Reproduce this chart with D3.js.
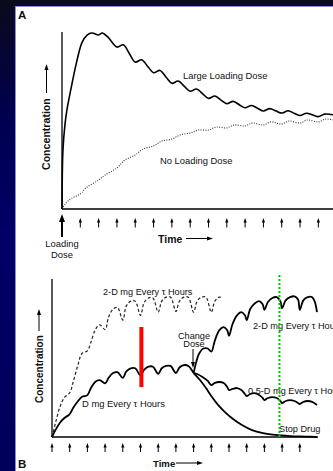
<!DOCTYPE html>
<html><head><meta charset="utf-8">
<script src="https://cdn.jsdelivr.net/npm/d3@7"></script>
<style>html,body{margin:0;padding:0;background:#000060;overflow:hidden}svg{display:block}</style>
</head><body><svg id="c" width="333" height="471"></svg>
<script>
// ---------- Panel A data (time in dosing intervals, concentration in % of axis) ----------
const doseTimesA = [1,2,3,4,5,6,7,8,9,10,11,12,13,14];
const loadingDoseTime = 0;
const largeLoading = [
 [0,0],[0.05,33],[0.16,47.5],[0.27,56],[0.55,71],[0.82,84],[1.09,94],[1.37,98.3],[1.64,99.4],
 [2.0,98.3],[2.19,99.4],[2.5,97.2],
 [3,91.5],[3.35,92.8],[3.7,87.4],
 [4,83],[4.35,84.3],[4.7,80.3],
 [5,77],[5.35,78.3],[5.7,74.3],
 [6,71],[6.35,72.3],[6.7,69.1],
 [7,66.5],[7.35,67.8],[7.7,64.9],
 [8,62.5],[8.35,63.8],[8.7,61.4],
 [9,59.5],[9.35,60.8],[9.7,58.8],
 [10,57.2],[10.35,58.5],[10.7,56.8],
 [11,55.4],[11.35,56.7],[11.7,55.3],
 [12,54.2],[12.35,55.5],[12.7,54.0],
 [13,52.8],[13.35,54.1],[13.7,53.1],
 [14,52.2],[14.35,53.6],[14.8,53.2]
];
const noLoading = [
 [0,0],[0.22,3.4],[0.55,6.2],[1.0,8.5],[1.31,11.9],[2.0,16.4],[2.35,19.2],[3.0,23.2],[3.44,27.7],
 [4.0,30.5],[4.43,33.9],[5.0,35.6],[5.46,38.4],[6.0,39.5],[6.45,41.8],[7.0,42.9],[7.43,44.6],
 [8.0,44.6],[8.42,46.3],[9.0,45.8],[9.4,47.5],[10.0,46.9],[10.4,48.6],[11.0,47.5],[11.4,49.2],
 [12.0,48.0],[12.4,49.7],[13.0,48.6],[13.4,50.3],[14.0,49.2],[14.4,50.8],[14.8,50.3]
];
const labelsA = ["Large Loading Dose","No Loading Dose","Loading","Dose","Concentration","Time","A"];

// ---------- Panel B data ----------
const doseTimesB = [0,1,2,3,4,5,6,7,8,9,10,11,12,13,14];
const dEvery = [
 [0,0],[0.2,4.5],[0.45,9],[0.7,12],[1,14.5],
 [1.2,18.5],[1.45,22.5],[1.7,25.5],[2,26.5],
 [2.2,31],[2.45,35],[2.7,36],[3,34],
 [3.2,37.5],[3.45,40.5],[3.7,41],[4,37.5],
 [4.2,41.5],[4.45,43.5],[4.7,43.5],[5,39],
 [5.2,42.5],[5.45,44.5],[5.7,44.5],[6,40],
 [6.2,43.5],[6.45,45],[6.7,45],[7,40.5],
 [7.2,44],[7.45,45.5],[7.7,45],[8,40.5]
];
const twoDEvery = [
 [0,0],[0.2,9],[0.45,19],[0.7,25],[1,28],
 [1.2,35],[1.45,45],[1.7,53],[2,54.5],
 [2.2,60],[2.45,68],[2.7,71],[3,68],
 [3.2,76],[3.45,81],[3.7,82],[4,74],
 [4.2,83],[4.45,86],[4.7,86],[5,77],
 [5.2,85],[5.45,88],[5.7,88],[6,79],
 [6.2,86],[6.45,88.5],[6.7,88.5],[7,79.5],
 [7.2,86],[7.45,88.5],[7.7,88.5],[8,79],
 [8.2,86],[8.45,88.5],[8.7,88.5],[9,79],
 [9.2,86],[9.45,88.5],[9.66,88]
];
const twoDAfterChange = [
 [8,40.5],[8.15,47.5],[8.3,52.5],[8.55,56],[8.8,56],[9,54],
 [9.2,61],[9.45,67.5],[9.7,69.5],[9.9,67.5],[10,64],
 [10.2,71.5],[10.45,77],[10.7,79],[10.9,77],[11,74],
 [11.2,81],[11.45,84.5],[11.7,86],[11.9,84],[12,80.5],
 [12.2,85.5],[12.45,88],[12.7,88.5],[12.9,86],[13,81.5],
 [13.2,86.5],[13.45,88.5],[13.7,89],[13.9,87],[14,80.5],
 [14.2,86.5],[14.45,88.5],[14.7,88.5],[14.85,85.5],[14.97,79]
];
const halfDAfterChange = [
 [8,40.5],[8.2,39.9],[8.5,38],[8.8,35.5],[9,32.9],
 [9.2,34.2],[9.45,34.8],[9.7,34.2],[9.9,31.6],[10,29.7],
 [10.2,30.4],[10.45,31],[10.7,29.7],[10.9,27.2],[11,25.9],
 [11.2,27.2],[11.45,27.8],[11.7,26.6],[11.9,24.7],[12,23.4],
 [12.2,24.7],[12.45,25.3],[12.7,24.7],[12.9,22.8],[13,21.5],
 [13.2,22.8],[13.45,23.4],[13.7,22.8],[13.9,21.5],[14,20.9],
 [14.2,22.2],[14.45,22.8],[14.7,22.2],[14.97,20.3]
];
const stopDrug = [
 [8,40.5],[8.36,36.1],[8.7,31],[9.04,25.3],[9.38,20.3],[9.77,15.8],[10.23,11.4],
 [10.73,7.6],[11.3,4.4],[11.92,2.5],[12.6,1.3],[13.45,0.6],[14.3,0.3],[15,0]
];
const redBarB = {t: 5.05, low: 31.6, high: 69.6};
const stopMarkerB = {t: 12.85, low: -0.6, high: 102.5};
const labelsB = ["2-D mg Every τ Hours","D mg Every τ Hours","Change","Dose",
                 "2-D mg Every τ Hours","0.5-D mg Every τ Hours","Stop Drug","Concentration","Time","B"];

// ---------- drawing ----------
const svg = d3.select("#c");
const W = 333, H = 471;
const defs = svg.append("defs");
const grad = defs.append("linearGradient").attr("id","bg").attr("x1",0).attr("y1",0).attr("x2",0).attr("y2",1);
grad.append("stop").attr("offset","0%").attr("stop-color","#0a0a1c");
grad.append("stop").attr("offset","25%").attr("stop-color","#000050");
grad.append("stop").attr("offset","50%").attr("stop-color","#000066");
grad.append("stop").attr("offset","100%").attr("stop-color","#00005a");
svg.append("rect").attr("width",W).attr("height",H).attr("fill","url(#bg)");
svg.append("rect").attr("x",15).attr("y",6).attr("width",W-15).attr("height",H-6).attr("fill","#fff");
svg.append("line").attr("x1",15.5).attr("x2",15.5).attr("y1",6).attr("y2",H).attr("stroke","#8c8cd8").attr("stroke-width",1);
svg.append("line").attr("x1",15).attr("x2",W).attr("y1",6.5).attr("y2",6.5).attr("stroke","#8c8cd8").attr("stroke-width",1);

const FONT = "'Liberation Sans', Arial, Helvetica, sans-serif";

function arrowV(g, x, yTail, yHead, hw, hl, sw){
  const dir = yHead < yTail ? 1 : -1; // 1 = pointing up
  g.append("line").attr("x1",x).attr("x2",x).attr("y1",yTail).attr("y2",yHead + dir*hl*0.8)
    .attr("stroke","#000").attr("stroke-width",sw);
  g.append("path").attr("d",`M${x},${yHead} L${x-hw/2},${yHead+dir*hl} L${x+hw/2},${yHead+dir*hl} Z`).attr("fill","#000");
}
function arrowH(g, xTail, xHead, y, hw, hl, sw){
  g.append("line").attr("x1",xTail).attr("x2",xHead-hl*0.8).attr("y1",y).attr("y2",y)
    .attr("stroke","#000").attr("stroke-width",sw);
  g.append("path").attr("d",`M${xHead},${y} L${xHead-hl},${y-hw/2} L${xHead-hl},${y+hw/2} Z`).attr("fill","#000");
}
function text(g, s, x, y, size, opts={}){
  const t = g.append("text").attr("x",x).attr("y",y).text(s)
    .attr("font-family",FONT).attr("font-size",size).attr("fill","#111");
  if(opts.bold) t.attr("font-weight","bold");
  if(opts.anchor) t.attr("text-anchor",opts.anchor);
  if(opts.rotate) t.attr("transform",`rotate(-90,${x},${y})`);
  return t;
}

// Panel A
const gA = svg.append("g");
const xA = d3.scaleLinear().domain([0,14.8]).range([62,333]);
const yA = d3.scaleLinear().domain([0,100]).range([209,32]);
const lineA = d3.line().x(d=>xA(d[0])).y(d=>yA(d[1])).curve(d3.curveCatmullRom.alpha(0.5));
gA.append("line").attr("x1",xA(0)).attr("x2",xA(0)).attr("y1",yA(0)).attr("y2",yA(100)).attr("stroke","#000").attr("stroke-width",1.3);
gA.append("line").attr("x1",xA(0)).attr("x2",xA(14.8)).attr("y1",yA(0)).attr("y2",yA(0)).attr("stroke","#000").attr("stroke-width",1.3);
gA.append("path").attr("d",lineA(noLoading)).attr("fill","none").attr("stroke","#333").attr("stroke-width",1.1).attr("stroke-dasharray","1,1.4");
gA.append("path").attr("d",lineA(largeLoading)).attr("fill","none").attr("stroke","#000").attr("stroke-width",1.6);
doseTimesA.forEach(t=>arrowV(gA, xA(t), 227.5, 218, 3.2, 4.5, 1));
arrowV(gA, xA(loadingDoseTime), 237, 214, 6, 8, 2);
text(gA, labelsA[0], 183, 78.5, 9.4);
text(gA, labelsA[1], 160, 163.5, 9.4);
text(gA, labelsA[2], xA(0), 246.5, 9.4, {anchor:"middle"});
text(gA, labelsA[3], xA(0), 257.5, 9.4, {anchor:"middle"});
text(gA, labelsA[4], 50, 170, 10.6, {bold:true, rotate:true});
arrowV(gA, 46.5, 93, 64, 4, 6, 1);
text(gA, labelsA[5], 158, 242.5, 10.5, {bold:true});
arrowH(gA, 186, 213, 238.5, 4, 6, 1);
text(gA, labelsA[6], 18, 18.5, 11.5, {bold:true});

// Panel B
const gB = svg.append("g");
const xB = d3.scaleLinear().domain([0,15]).range([52,317.5]);
const yB = d3.scaleLinear().domain([0,100]).range([437,279]);
const lineB = d3.line().x(d=>xB(d[0])).y(d=>yB(d[1])).curve(d3.curveCatmullRom.alpha(0.5));
gB.append("line").attr("x1",xB(0)).attr("x2",xB(0)).attr("y1",yB(0)).attr("y2",yB(100)).attr("stroke","#000").attr("stroke-width",1.3);
gB.append("line").attr("x1",xB(0)).attr("x2",xB(15)).attr("y1",yB(0)).attr("y2",yB(0)).attr("stroke","#000").attr("stroke-width",1.3);
gB.append("path").attr("d",lineB(twoDEvery)).attr("fill","none").attr("stroke","#222").attr("stroke-width",1.2).attr("stroke-dasharray","3,2.2");
[dEvery, twoDAfterChange, halfDAfterChange, stopDrug].forEach(s=>
  gB.append("path").attr("d",lineB(s)).attr("fill","none").attr("stroke","#000").attr("stroke-width",1.8));
doseTimesB.forEach(t=>arrowV(gB, xB(t), 452, 443, 3.2, 4.5, 1));
text(gB, labelsB[0], 103, 295, 9.2);
text(gB, labelsB[1], 82, 406.5, 9.4);
text(gB, labelsB[2], 194, 338.5, 9.2, {anchor:"middle"});
text(gB, labelsB[3], 194, 347, 9.2, {anchor:"middle"});
arrowV(gB, 193, 349, 368, 4, 6, 1);
text(gB, labelsB[4], 253, 328.5, 9.2);
text(gB, labelsB[5], 248, 393.5, 9.2);
text(gB, labelsB[6], 279, 431.5, 9.2);
text(gB, labelsB[7], 42.5, 403, 10, {bold:true, rotate:true});
arrowV(gB, 39, 331, 309, 4, 6, 1);
text(gB, labelsB[8], 153, 467, 9.6, {bold:true});
arrowH(gB, 176, 203, 463, 4, 6, 1);
text(gB, labelsB[9], 18, 468, 11.5, {bold:true});
// red bar
gB.append("rect").attr("x",xB(redBarB.t)-2).attr("width",4)
  .attr("y",yB(redBarB.high)).attr("height",yB(redBarB.low)-yB(redBarB.high)).attr("fill","#ff0000");
// green stop marker
gB.append("line").attr("x1",xB(stopMarkerB.t)).attr("x2",xB(stopMarkerB.t))
  .attr("y1",yB(stopMarkerB.high)).attr("y2",yB(stopMarkerB.low))
  .attr("stroke","#00c800").attr("stroke-width",2).attr("stroke-dasharray","2,2");
</script></body></html>
